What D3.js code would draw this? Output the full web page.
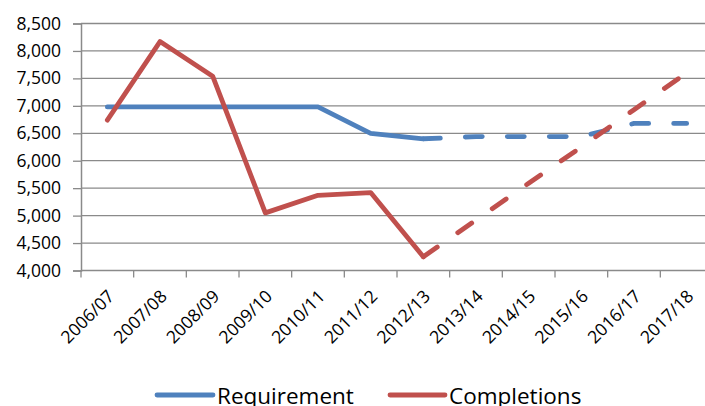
<!DOCTYPE html>
<html>
<head>
<meta charset="utf-8">
<script src="https://cdn.jsdelivr.net/npm/d3@7"></script>
<style>
  body { margin: 0; background: #fff; }
  svg { display: block; font-family: "Open Sans", sans-serif; }
</style>
</head>
<body>
<svg id="chart" width="705" height="406"></svg>
<script>
// Data
const years = ["2006/07", "2007/08", "2008/09", "2009/10", "2010/11", "2011/12",
               "2012/13", "2013/14", "2014/15", "2015/16", "2016/17", "2017/18"]
const requirement = [6980, 6980, 6980, 6980, 6980, 6500, 6400, 6440, 6440, 6440, 6680, 6680]
const completions = [6740, 8170, 7540, 5050, 5370, 5420, 4250, 4920, 5590, 6250, 6930, 7600]
const yTicks = [4000, 4500, 5000, 5500, 6000, 6500, 7000, 7500, 8000, 8500]
const lastActual = 6 // 2012/13, after this the lines are projections

const series = [
  { name: "Requirement", values: requirement, color: "#4f81bd" },
  { name: "Completions", values: completions, color: "#c0504d" }
]

const plot = { left: 81, right: 713, top: 23.5, bottom: 270.5 }
const gridColor = "#8a8a8a"

const svg = d3.select("#chart")

const x = d3.scaleBand().domain(years).range([plot.left, plot.right])
const y = d3.scaleLinear().domain([4000, 8500]).range([plot.bottom, plot.top])
const cx = d => x(d) + x.bandwidth() / 2

// gridlines
svg.append("g")
  .selectAll("line")
  .data(yTicks.slice(1))
  .enter().append("line")
  .attr("x1", plot.left).attr("x2", plot.right)
  .attr("y1", d => y(d)).attr("y2", d => y(d))
  .attr("stroke", gridColor)
  .attr("stroke-width", 1.3)

// y axis
const yAxis = svg.append("g")
  .attr("transform", `translate(${plot.left},0)`)
  .call(d3.axisLeft(y).tickValues(yTicks).tickSize(8).tickPadding(12).tickFormat(d3.format(",")))
yAxis.select(".domain").attr("stroke", gridColor).attr("stroke-width", 1.5)
yAxis.selectAll(".tick line").attr("stroke", gridColor).attr("stroke-width", 1.3)
yAxis.selectAll("text").attr("font-size", 17.5).attr("fill", "#000")
  .attr("font-family", "Open Sans")

// x axis (ticks between categories)
const xEdges = years.map(d => x(d)).concat([plot.right])
const xAxis = svg.append("g")
xAxis.append("line")
  .attr("x1", plot.left).attr("x2", plot.right)
  .attr("y1", plot.bottom).attr("y2", plot.bottom)
  .attr("stroke", gridColor).attr("stroke-width", 1.5)
xAxis.selectAll(".xt")
  .data(xEdges)
  .enter().append("line")
  .attr("class", "xt")
  .attr("x1", d => d).attr("x2", d => d)
  .attr("y1", plot.bottom).attr("y2", plot.bottom + 7)
  .attr("stroke", gridColor).attr("stroke-width", 1.3)
xAxis.selectAll("text")
  .data(years)
  .enter().append("text")
  .attr("transform", d => `translate(${cx(d) + 8},${plot.bottom + 27}) rotate(-45)`)
  .attr("text-anchor", "end")
  .attr("font-size", 17.5)
  .attr("fill", "#000")
  .text(d => d)

// lines: solid for actuals, dashed for projections
const line = d3.line()
  .x(d => cx(d.year))
  .y(d => y(d.value))

series.forEach(s => {
  const pts = years.map((yr, i) => ({ year: yr, value: s.values[i] }))
  svg.append("path")
    .datum(pts.slice(0, lastActual + 1))
    .attr("d", line)
    .attr("fill", "none")
    .attr("stroke", s.color)
    .attr("stroke-width", 4.8)
    .attr("stroke-linejoin", "round")
    .attr("stroke-linecap", "round")
  svg.append("path")
    .datum(pts.slice(lastActual))
    .attr("d", line)
    .attr("fill", "none")
    .attr("stroke", s.color)
    .attr("stroke-width", 4.8)
    .attr("stroke-dasharray", "17,25")
    .attr("stroke-linejoin", "round")
    .attr("stroke-linecap", "round")
})

// legend
const legendPos = [{ x1: 157, x2: 213 }, { x1: 390, x2: 445 }]
const legend = svg.append("g")
  .selectAll("g")
  .data(series)
  .enter().append("g")
legend.append("line")
  .attr("x1", (d, i) => legendPos[i].x1)
  .attr("x2", (d, i) => legendPos[i].x2)
  .attr("y1", 395).attr("y2", 395)
  .attr("stroke", d => d.color)
  .attr("stroke-width", 4.8)
  .attr("stroke-linecap", "round")
legend.append("text")
  .attr("x", (d, i) => legendPos[i].x2 + 4)
  .attr("y", 404)
  .attr("font-size", 22.5)
  .attr("fill", "#000")
  .text(d => d.name)
</script>
</body>
</html>
